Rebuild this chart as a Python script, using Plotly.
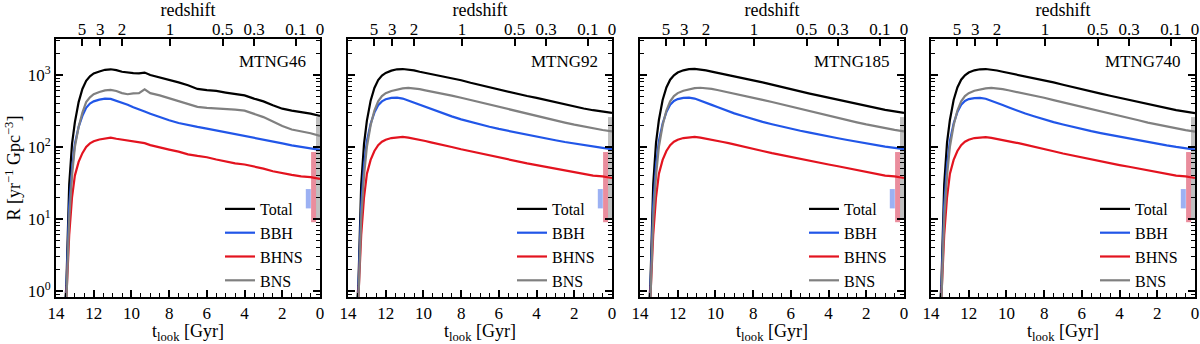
import plotly.graph_objects as go

# lookback time grid [Gyr]
t_look = [13.6, 13.45, 13.3, 13.15, 13.0, 12.8, 12.6, 12.4, 12.2, 12.0, 11.7, 11.4, 11.1,
          10.8, 10.5, 10.2, 9.9, 9.6, 9.3, 9.0, 8.5, 8.0, 7.5, 7.0, 6.5, 6.0, 5.5, 5.0,
          4.5, 4.0, 3.5, 3.0, 2.5, 2.0, 1.5, 1.0, 0.5, 0.0]

# MTNG46
total_46 = [0.3, 1.2, 30, 110, 220, 420, 640, 830, 960, 1050, 1120, 1180, 1200, 1170, 1110,
            1080, 1060, 1050, 1080, 1000, 930, 850, 790, 720, 640, 615, 600, 570, 540, 520,
            470, 430, 380, 340, 320, 305, 290, 270]
bbh_46 = [0.3, 1.0, 15, 50, 110, 190, 270, 350, 400, 430, 455, 470, 465, 440, 410, 385, 355,
          335, 310, 290, 260, 235, 215, 200, 190, 180, 170, 160, 150, 142, 135, 128, 120,
          112, 105, 100, 96, 91]
bhns_46 = [0.3, 0.8, 6, 20, 40, 62, 82, 100, 112, 120, 127, 132, 135, 130, 126, 122, 118,
           116, 113, 106, 98, 92, 86, 79, 75, 72, 67, 63, 59, 57, 54, 50, 46, 43, 41, 39, 38, 36]
bns_46 = [0.3, 0.7, 10, 40, 100, 190, 300, 420, 490, 540, 580, 610, 620, 600, 560, 540, 555,
          560, 630, 560, 520, 475, 430, 400, 360, 350, 345, 340, 330, 320, 285, 260, 225,
          195, 175, 165, 155, 142]

# MTNG92
total_92 = [0.3, 1.2, 30, 110, 230, 440, 660, 850, 980, 1070, 1150, 1200, 1210, 1190, 1160,
            1110, 1070, 1040, 1000, 960, 900, 845, 780, 725, 670, 625, 585, 545, 510, 480,
            448, 418, 388, 362, 342, 324, 310, 298]
bbh_92 = [0.3, 1.0, 15, 55, 120, 210, 300, 380, 430, 460, 480, 485, 470, 440, 410, 382, 356,
          332, 312, 292, 266, 242, 222, 206, 191, 178, 167, 157, 148, 139, 131, 124, 117,
          111, 106, 101, 97, 93]
bhns_92 = [0.3, 0.8, 6, 20, 42, 66, 88, 106, 118, 126, 133, 137, 138, 135, 131, 126, 121,
           116, 112, 107, 100, 93, 87, 81, 76, 71, 67, 63, 59, 56, 53, 50, 47, 44, 42, 40, 39, 37]
bns_92 = [0.3, 0.7, 10, 40, 100, 200, 320, 430, 510, 560, 600, 630, 650, 660, 655, 635, 612,
          592, 572, 552, 516, 482, 448, 418, 388, 358, 332, 310, 289, 270, 252, 234, 218,
          204, 192, 181, 172, 165]

# MTNG185
total_185 = [0.3, 1.2, 30, 115, 235, 450, 670, 860, 990, 1080, 1160, 1205, 1215, 1195, 1160,
             1115, 1075, 1040, 1005, 970, 910, 850, 790, 733, 680, 632, 590, 552, 517, 485,
             453, 423, 393, 367, 346, 328, 312, 298]
bbh_185 = [0.3, 1.0, 15, 55, 120, 212, 305, 385, 435, 462, 480, 484, 470, 442, 412, 384, 358,
           334, 313, 293, 267, 243, 223, 207, 192, 179, 168, 158, 148, 140, 132, 125, 118,
           112, 106, 101, 97, 93]
bhns_185 = [0.3, 0.8, 6, 20, 42, 66, 88, 106, 118, 126, 133, 137, 138, 135, 131, 126, 121,
            117, 113, 108, 101, 94, 88, 82, 77, 72, 68, 64, 60, 57, 54, 51, 48, 45, 42, 40, 39, 37]
bns_185 = [0.3, 0.7, 10, 40, 100, 200, 320, 430, 510, 560, 605, 635, 655, 665, 660, 640, 618,
           596, 575, 555, 520, 486, 452, 421, 391, 362, 336, 313, 292, 273, 255, 237, 220,
           206, 193, 182, 173, 165]

# MTNG740
total_740 = [0.3, 1.2, 30, 115, 235, 450, 670, 860, 990, 1080, 1160, 1200, 1210, 1190, 1155,
             1110, 1070, 1035, 1000, 965, 905, 848, 788, 731, 678, 630, 588, 550, 515, 483,
             451, 421, 391, 365, 344, 325, 309, 295]
bbh_740 = [0.3, 1.0, 15, 55, 120, 212, 305, 385, 435, 462, 478, 482, 468, 440, 410, 382, 356,
           332, 311, 291, 265, 241, 221, 205, 190, 177, 166, 156, 147, 139, 131, 124, 117,
           111, 105, 100, 96, 92]
bhns_740 = [0.3, 0.8, 6, 20, 42, 66, 88, 106, 118, 126, 133, 136, 137, 134, 130, 125, 120,
            116, 112, 107, 100, 93, 87, 81, 76, 71, 67, 63, 59, 56, 53, 50, 47, 44, 42, 40, 39, 37]
bns_740 = [0.3, 0.7, 10, 40, 100, 200, 320, 430, 510, 560, 603, 632, 650, 660, 655, 635, 613,
           592, 571, 551, 516, 482, 448, 418, 388, 359, 333, 311, 290, 271, 253, 235, 218,
           204, 191, 180, 171, 163]

panel_names = ["MTNG46", "MTNG92", "MTNG185", "MTNG740"]
panel_series = [
    (total_46, bbh_46, bhns_46, bns_46),
    (total_92, bbh_92, bhns_92, bns_92),
    (total_185, bbh_185, bhns_185, bns_185),
    (total_740, bbh_740, bhns_740, bns_740),
]
series_names = ["Total", "BBH", "BHNS", "BNS"]
series_colors = ["#000000", "#2156e8", "#e3131f", "#808080"]

# observed local rates (BBH, BHNS, BNS)
obs_t = [0.62, 0.34, 0.08]
obs_low = [14, 9, 10]
obs_high = [26, 85, 260]
obs_colors = ["rgba(90,125,235,0.6)", "rgba(222,80,105,0.65)", "rgba(150,150,150,0.6)"]

# top axis: redshift ticks at lookback time
z_labels = ["5", "3", "2", "1", "0.5", "0.3", "0.1", "0"]
z_tlook = [12.62, 11.66, 10.5, 7.95, 5.16, 3.5, 1.28, 0.0]

y_ticks = [1, 10, 100, 1000]
y_ticktext = ["10<sup>0</sup>", "10<sup>1</sup>", "10<sup>2</sup>", "10<sup>3</sup>"]
y_minor = [m * 10 ** d for d in range(-1, 4) for m in range(2, 10)]

W, H = 1200, 344
left_px = [56, 348, 640, 931]
width_px = 264
top_px, bot_px = 39, 297
font = "Liberation Serif"

fig = go.Figure()
layout = {}
for i, name in enumerate(panel_names):
    n = i + 1
    xa = "x" if n == 1 else f"x{n}"
    ya = "y" if n == 1 else f"y{n}"
    leg = "legend" if n == 1 else f"legend{n}"
    for j in range(len(obs_t)):
        fig.add_trace(go.Scatter(
            x=[obs_t[j], obs_t[j]], y=[obs_low[j], obs_high[j]], mode="lines",
            line=dict(color=obs_colors[j], width=5), showlegend=False,
            hoverinfo="skip", xaxis=xa, yaxis=ya,
        ))
    for s, vals in enumerate(panel_series[i]):
        fig.add_trace(go.Scatter(
            x=t_look, y=vals, mode="lines", name=series_names[s],
            line=dict(color=series_colors[s], width=2.2),
            xaxis=xa, yaxis=ya, legend=leg,
        ))
    # keeps the redshift axis alive
    fig.add_trace(go.Scatter(
        x=z_tlook, y=[None] * len(z_tlook), mode="lines", showlegend=False,
        hoverinfo="skip", xaxis=f"x{n + 4}", yaxis=ya,
    ))

    x0 = left_px[i] / W
    x1 = (left_px[i] + width_px) / W
    y0 = 1 - bot_px / H
    y1 = 1 - top_px / H
    key = "xaxis" if n == 1 else f"xaxis{n}"
    ykey = "yaxis" if n == 1 else f"yaxis{n}"
    layout[key] = dict(
        domain=[x0, x1], anchor=ya, range=[14, 0], tickvals=list(range(0, 15, 2)),
        ticks="inside", ticklen=7, tickwidth=1.5, tickcolor="black",
        minor=dict(ticks="inside", ticklen=4, tickwidth=1.2, dtick=0.5, tickcolor="black"),
        showline=True, linecolor="black", linewidth=2, mirror=True,
        showgrid=False, zeroline=False, automargin=False,
        title=dict(text="t<sub>look</sub> [Gyr]", standoff=2, font=dict(size=18)),
    )
    layout[f"xaxis{n + 4}"] = dict(
        overlaying=xa, anchor=ya, side="top", range=[14, 0], tickvals=z_tlook,
        ticktext=z_labels, ticks="inside", ticklen=7, tickwidth=1.5, tickcolor="black",
        showgrid=False, zeroline=False, showline=False, automargin=False,
        title=dict(text="redshift", standoff=0, font=dict(size=18)),
    )
    layout[ykey] = dict(
        domain=[y0, y1], anchor=xa, type="log", range=[-0.085, 3.5],
        tickvals=y_ticks, ticktext=y_ticktext, showticklabels=(n == 1),
        ticks="inside", ticklen=7, tickwidth=1.5, tickcolor="black",
        minor=dict(tickmode="array", tickvals=y_minor, ticks="inside", ticklen=4,
                   tickwidth=1.2, tickcolor="black"),
        showline=True, linecolor="black", linewidth=2, mirror="ticks",
        showgrid=False, zeroline=False, automargin=False,
    )
    if n == 1:
        layout[ykey]["title"] = dict(text="R [yr<sup>−1</sup> Gpc<sup>−3</sup>]",
                                     standoff=2, font=dict(size=18))
    layout[leg] = dict(
        x=(left_px[i] + 164) / W, y=1 - 298 / H, xanchor="left", yanchor="bottom",
        bgcolor="rgba(0,0,0,0)", font=dict(size=16, family=font), tracegroupgap=0,
        itemwidth=30,
    )
    fig.add_annotation(
        x=(left_px[i] + width_px - 12) / W, y=1 - 62 / H, xref="paper", yref="paper",
        text=name, showarrow=False, xanchor="right", yanchor="middle",
        font=dict(size=17, family=font, color="black"),
    )

fig.update_layout(
    width=W, height=H, margin=dict(l=0, r=0, t=0, b=0),
    plot_bgcolor="white", paper_bgcolor="white",
    font=dict(family=font, size=17, color="black"),
    **layout,
)

fig.write_html("out.html", config={"displayModeBar": False},
               post_script="document.body.style.margin = '0';")
